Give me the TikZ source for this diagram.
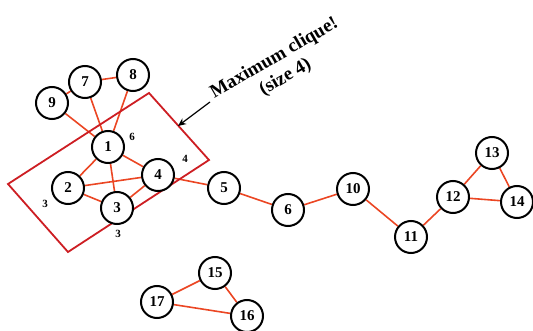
\documentclass[tikz,border=0pt]{standalone}
\usepackage{fontspec}
\setmainfont{Liberation Serif}
\usetikzlibrary{arrows.meta,backgrounds}
\definecolor{edgered}{RGB}{235,70,35}
\definecolor{boxred}{RGB}{205,30,35}
\tikzset{
  vtx/.style={circle,draw=black,line width=2pt,fill=white,minimum size=32pt,inner sep=0pt,
              font=\fontsize{15}{15}\selectfont\bfseries},
  link/.style={draw=edgered,line width=1.6pt},
  deg/.style={font=\fontsize{11}{11}\selectfont\bfseries,inner sep=0pt},
  note/.style={font=\fontsize{19}{22}\selectfont\bfseries,inner sep=0pt,rotate=30,align=center}
}
\begin{document}
\begin{tikzpicture}[x=1pt,y=-1pt]
\useasboundingbox (0,0) rectangle (533,331);
% vertices
\node[vtx] (n1) at (108,147) {1};
\node[vtx] (n2) at (68,188) {2};
\node[vtx] (n3) at (117,208) {3};
\node[vtx] (n4) at (158,175) {4};
\node[vtx] (n5) at (224,188) {5};
\node[vtx] (n6) at (288,210) {6};
\node[vtx] (n7) at (85,82) {7};
\node[vtx] (n8) at (133,75) {8};
\node[vtx] (n9) at (52,103) {9};
\node[vtx] (n10) at (353,189) {10};
\node[vtx] (n11) at (411,237) {11};
\node[vtx] (n12) at (453,197) {12};
\node[vtx] (n13) at (492,153) {13};
\node[vtx] (n14) at (517,202) {14};
\node[vtx] (n15) at (215,273) {15};
\node[vtx] (n16) at (247,316) {16};
\node[vtx] (n17) at (157,302) {17};
% degree labels
\node[deg] (d1) at (132,137) {6};
\node[deg] (d4) at (185,159) {4};
\node[deg] (d2) at (45,204) {3};
\node[deg] (d3) at (118,234) {3};
% annotation
\node[note,anchor=center] (cap) at (280,68) {Maximum clique!\\(size 4)};
\coordinate (tail) at (210,102);
\coordinate (tip) at (178,126);
\draw[line width=1.2pt,-{Stealth[length=8pt,width=7pt]}] (tail) -- (tip);
\begin{scope}[on background layer]
% edges
\foreach \a/\b in {n9/n7,n7/n8,n9/n1,n7/n1,n8/n1,n1/n2,n1/n3,n1/n4,n2/n4,n2/n3,n3/n4,
                   n4/n5,n5/n6,n6/n10,n10/n11,n11/n12,n12/n13,n12/n14,n13/n14,
                   n15/n16,n15/n17,n17/n16}
  \draw[link] (\a) -- (\b);
% clique frame
\coordinate (c1) at (8,184);
\coordinate (c2) at (149,93);
\coordinate (c3) at (209,160);
\coordinate (c4) at (68,252);
\draw[boxred,line width=1.8pt] (c1) -- (c2) -- (c3) -- (c4) -- cycle;
\end{scope}
\end{tikzpicture}
\end{document}
